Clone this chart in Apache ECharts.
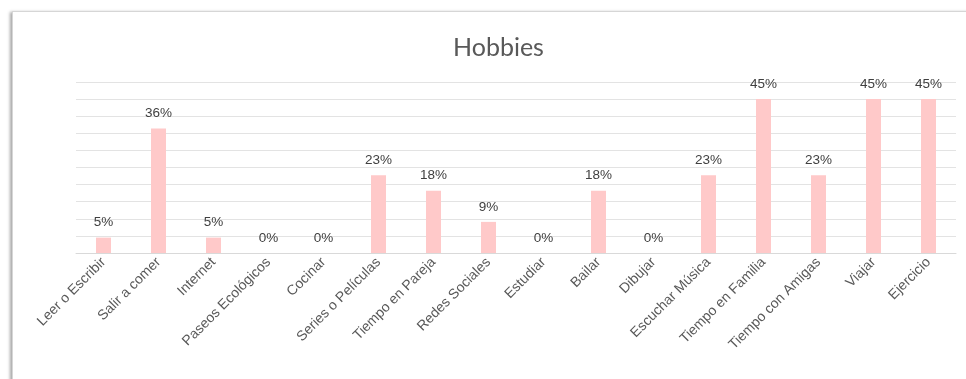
<!DOCTYPE html>
<html>
<head>
<meta charset="utf-8">
<script src="https://cdn.jsdelivr.net/npm/echarts@6/dist/echarts.min.js"></script>
<style>
    body { margin: 0; background: #fff; }
    .card {
        position: absolute; left: 12px; top: 11px; width: 990px; height: 400px;
        border: 1px solid #d6d6d6;
        box-shadow: -2px 1px 3px rgba(0,0,0,0.35);
        background: #fff;
    }
    #hobbies_chart { position: absolute; left: 0; top: 0; width: 966px; height: 379px; }
</style>
</head>
<body>
<div class="card"></div>
<div id="hobbies_chart"></div>
<script>
    // datos
    var categories = ['Leer o Escribir', 'Salir a comer', 'Internet', 'Paseos Ecológicos', 'Cocinar',
        'Series o Películas', 'Tiempo en Pareja', 'Redes Sociales', 'Estudiar', 'Bailar', 'Dibujar',
        'Escuchar Música', 'Tiempo en Familia', 'Tiempo con Amigas', 'Viajar', 'Ejercicio'];
    var values = [4.5, 36.4, 4.5, 0, 0, 22.7, 18.2, 9.1, 0, 18.2, 0, 22.7, 45.0, 22.7, 45.0, 45.0];

    var myChart = echarts.init(document.getElementById('hobbies_chart'));
    var option = {
        backgroundColor: 'transparent',
        animation: false,
        title: {
            text: 'Hobbies',
            left: 448,
            top: 30,
            textStyle: { color: '#595959', fontFamily: 'Lato', fontWeight: 'normal', fontSize: 25 }
        },
        grid: { left: 76, right: 10, top: 82, bottom: 126, containLabel: false },
        xAxis: {
            type: 'category',
            data: categories,
            axisLine: { lineStyle: { color: '#d9d9d9' } },
            axisTick: { show: false },
            axisLabel: {
                rotate: 45, interval: 0, margin: 7,
                color: '#595959', fontFamily: 'Liberation Sans', fontSize: 14
            }
        },
        yAxis: {
            type: 'value',
            min: 0, max: 50, interval: 5,
            axisLabel: { show: false },
            axisLine: { show: false },
            axisTick: { show: false },
            splitLine: { lineStyle: { color: '#e3e3e3' } }
        },
        series: [{
            type: 'bar',
            data: values,
            barWidth: 15,
            itemStyle: { color: '#ffc9c9' },
            label: {
                show: true, position: 'top', distance: 8,
                color: '#404040', fontFamily: 'Liberation Sans', fontSize: 13.5,
                formatter: function (p) { return Math.round(p.value) + '%'; }
            }
        }]
    };
    myChart.setOption(option);
</script>
</body>
</html>
